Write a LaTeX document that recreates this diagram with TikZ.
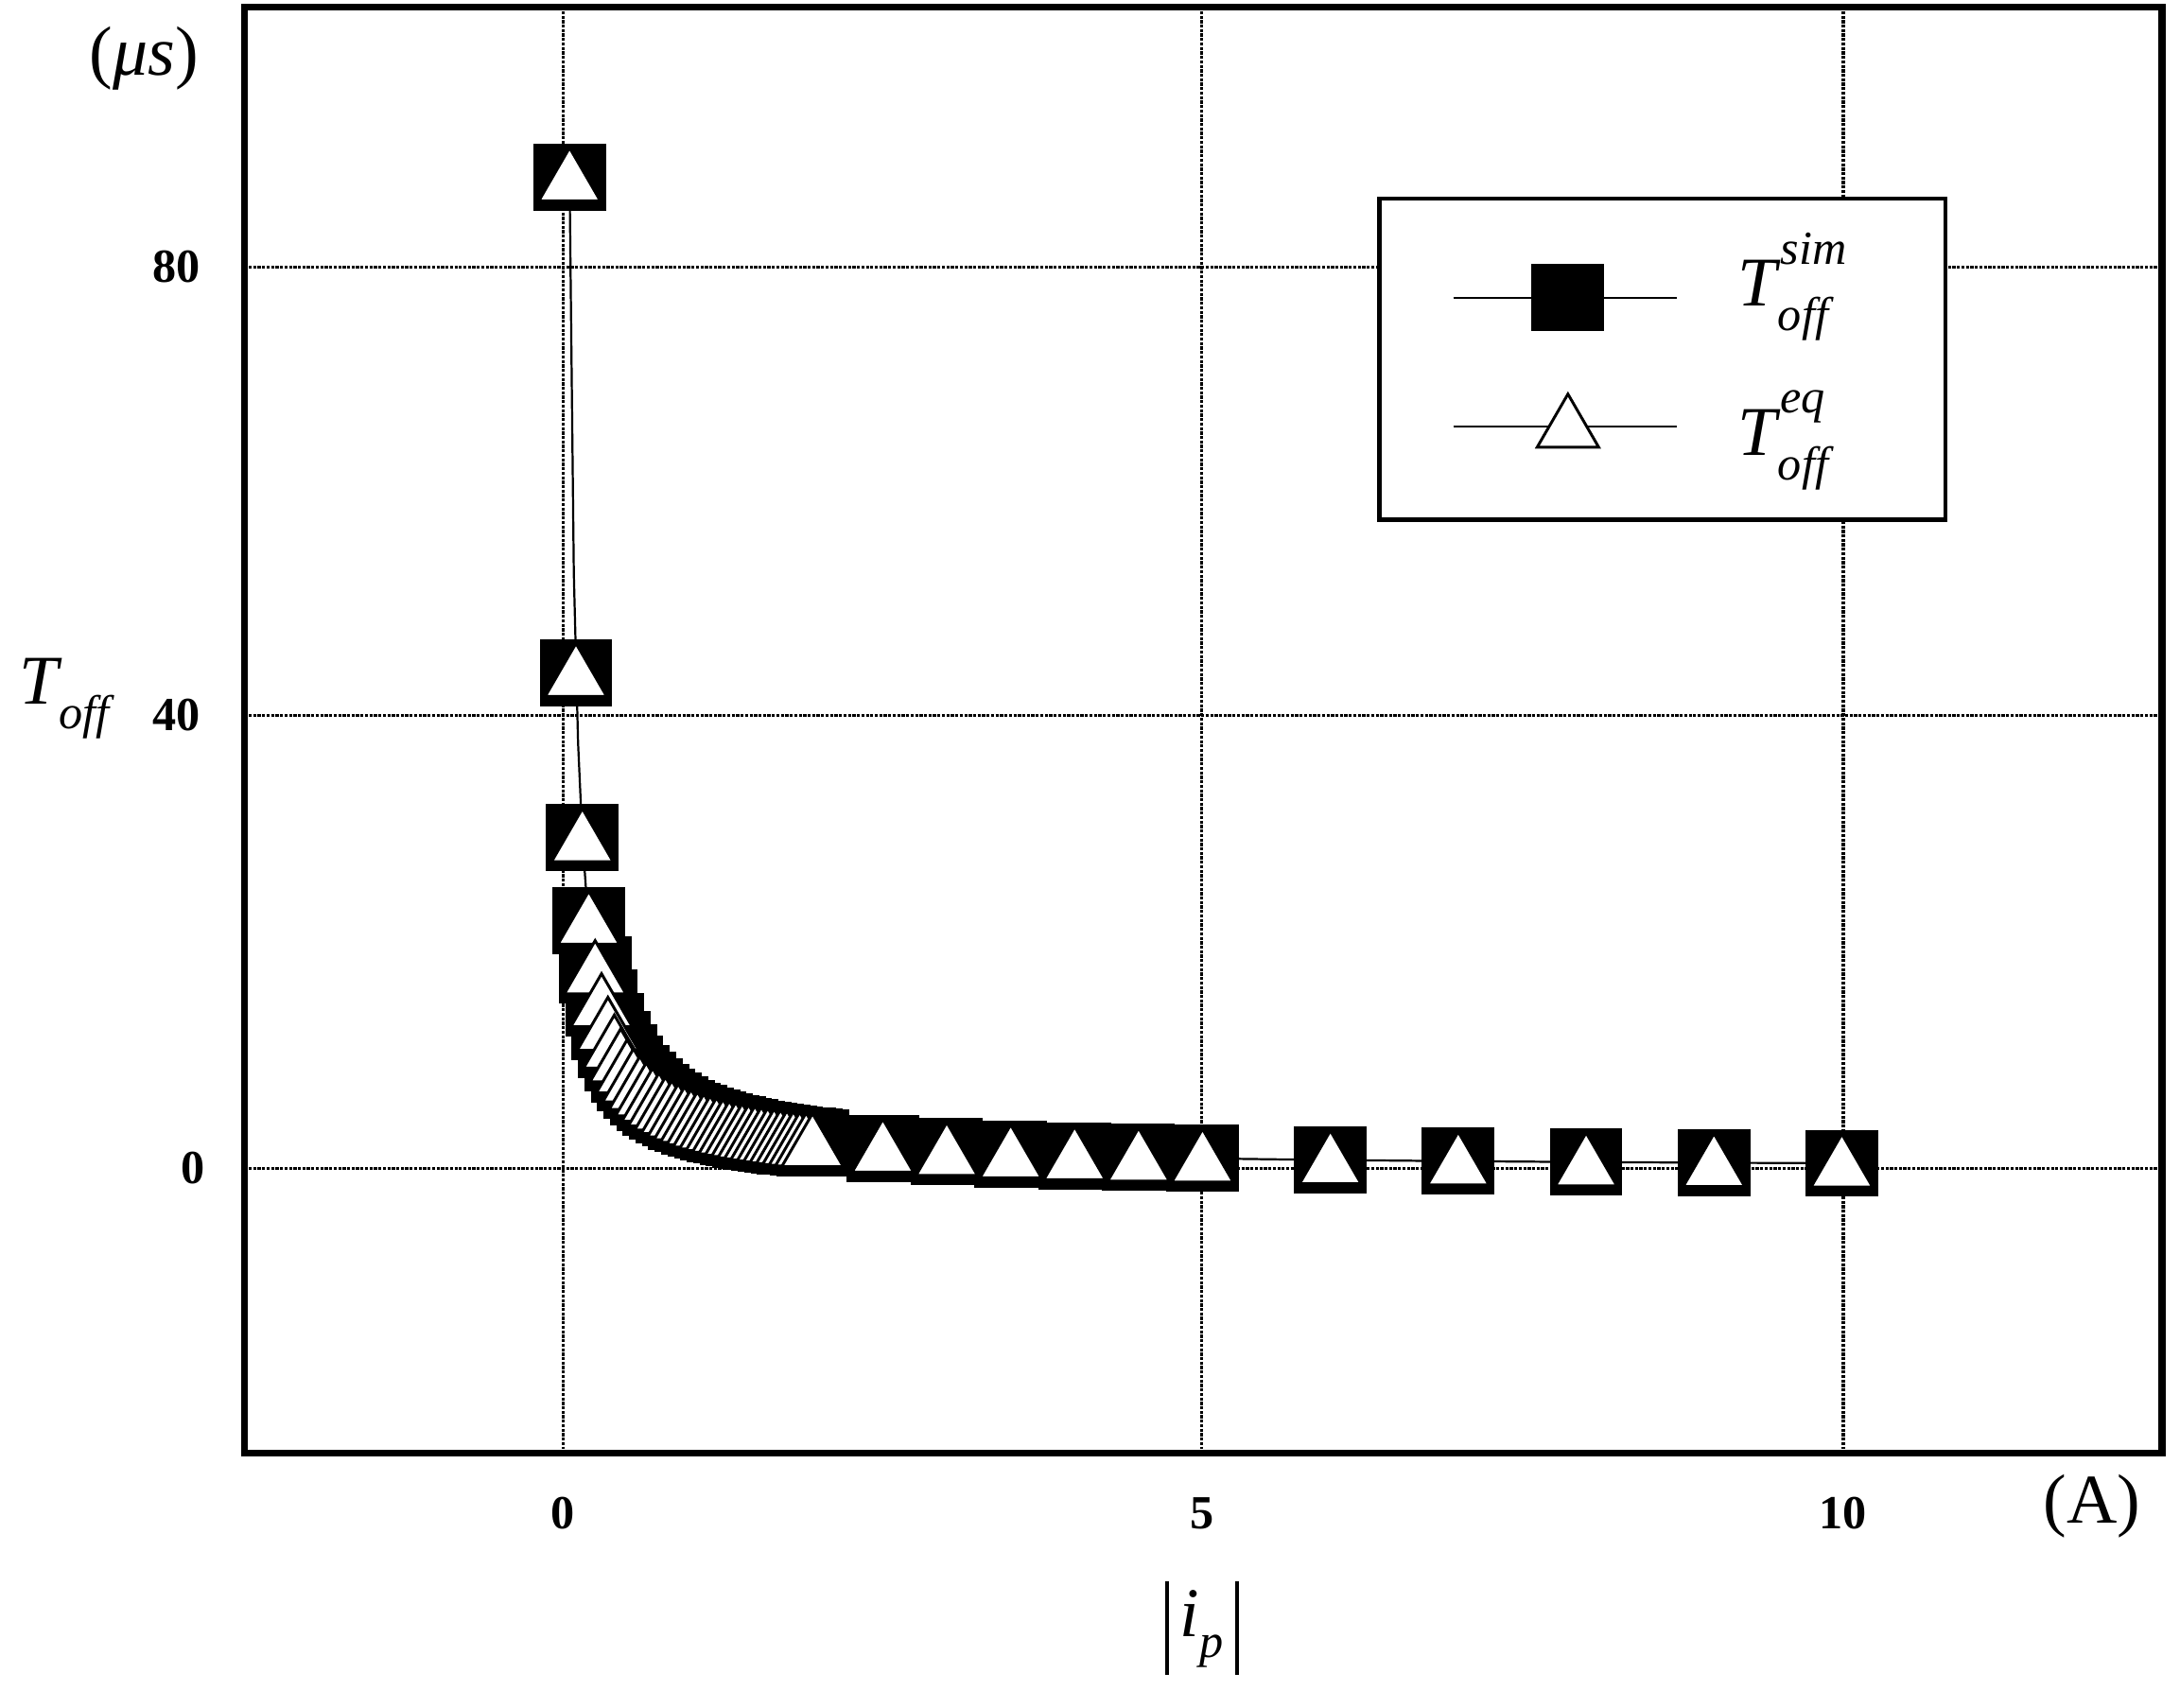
\documentclass[tikz,border=0pt]{standalone}
\usepackage{fontspec}
\setmainfont{Liberation Serif}
\newcommand{\Tsub}[2]{\textit{T}\kern-2pt\raisebox{-0.35em}{\fontsize{34}{40}\selectfont\textit{off}}\ifx&#1&\else\kern-38pt\raisebox{0.6em}{\fontsize{34}{40}\selectfont\textit{#1}}\fi}
\begin{document}
\begin{tikzpicture}[x=1pt,y=-1pt,
  grid/.style={densely dotted,line width=2.2pt},
  tick/.style={font=\fontsize{34}{40}\selectfont\bfseries},
  big/.style={font=\fontsize{50}{58}\selectfont},
  sq/.style={fill=black},
  tri/.style={fill=white,draw=black,line width=2pt,line join=miter}]
\useasboundingbox (0,0) rectangle (1560,1222);
\def\sqm#1#2{\fill[sq] (#1-26,#2-24) rectangle (#1+26,#2+24);}
\def\trim#1#2{\draw[tri] (#1-22,#2+17) -- (#1,#2-21) -- (#1+22,#2+17) -- cycle;}
% grid
\foreach \gx in {403,860,1319} \draw[grid] (\gx,8) -- (\gx,1037);
\foreach \gy in {191,512,836} \draw[grid] (178,\gy) -- (1544,\gy);
% frame
\draw[line width=5pt] (175,5) rectangle (1547,1040);
% tick labels
\node[tick] (y80) at (126,191) {80};
\node[tick] (y40) at (126,512) {40};
\node[tick] (y0) at (138,836) {0};
\node[tick] (x0) at (403,1083) {0};
\node[tick] (x5) at (860,1083) {5};
\node[tick] (x10) at (1319,1083) {10};
\node[big] (unitA) at (1497,1078) {(A)};
\node[big] (unitmu) at (103,42) {(\textit{μs})};
\node[big] (ylab) at (48,500) {\Tsub{}{}};
\node[big] (xlab) at (860,1165) {\rule[-0.55em]{2.5pt}{1.35em}\,\textit{i}\raisebox{-0.3em}{\fontsize{34}{40}\selectfont\textit{p}}\,\rule[-0.55em]{2.5pt}{1.35em}};
% data
\draw[line width=1.5pt] plot[domain=0.05:10,samples=300] ({403+91.5*\x},{836-8.06*4.4/\x});
\foreach \i in {0.05,0.1,...,2.0,2.5,3,...,5,6,7,8,9,10} {
  \pgfmathsetmacro\px{403+91.5*\i}\pgfmathsetmacro\py{836-8.06*4.4/\i}
  \sqm{\px}{\py}}
\foreach \i in {0.05,0.1,...,2.0,2.5,3,...,5,6,7,8,9,10} {
  \pgfmathsetmacro\px{403+91.5*\i}\pgfmathsetmacro\py{836-8.06*4.4/\i}
  \trim{\px}{\py}}
% legend
\draw[line width=3pt,fill=white] (987,142) rectangle (1392,372);
\coordinate (l1a) at (1040,213); \coordinate (l1b) at (1200,213);
\draw[line width=1.5pt] (l1a) -- (l1b);
\sqm{1122}{213}
\node[big,anchor=west] (leg1) at (1240,205) {\Tsub{sim}{}};
\coordinate (l2a) at (1040,305); \coordinate (l2b) at (1200,305);
\draw[line width=1.5pt] (l2a) -- (l2b);
\trim{1122}{303}
\node[big,anchor=west] (leg2) at (1240,315) {\Tsub{eq}{}};
\end{tikzpicture}
\end{document}
